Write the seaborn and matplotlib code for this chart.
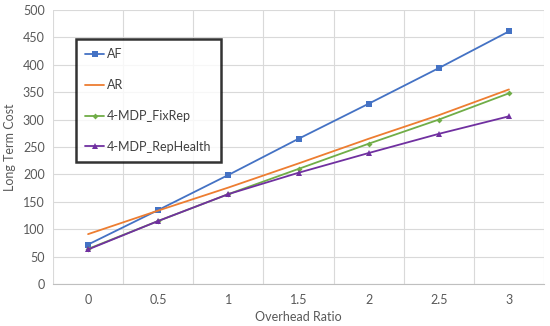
import numpy as np
import pandas as pd
import matplotlib
matplotlib.use("Agg")
import matplotlib.pyplot as plt
import seaborn as sns

# --- data ---
overhead = [0, 0.5, 1, 1.5, 2, 2.5, 3]
tick_labels = ["0", "0.5", "1", "1.5", "2", "2.5", "3"]
af = [72, 135, 199, 265, 329, 394, 461]
ar = [91, 134, 176, 220, 265, 308, 355]
fixrep = [64, 115, 164, 210, 256, 300, 348]
rephealth = [63, 115, 164, 203, 239, 274, 306]

series_names = ["AF", "AR", "4-MDP_FixRep", "4-MDP_RepHealth"]
series_values = [af, ar, fixrep, rephealth]

df = pd.DataFrame({
    "Overhead Ratio": np.tile(overhead, len(series_names)),
    "Long Term Cost": np.concatenate(series_values),
    "Series": np.repeat(series_names, len(overhead)),
})

sns.set_theme(style="white")
plt.rcParams["font.family"] = ["Lato", "DejaVu Sans"]

palette = {"AF": "#4472C4", "AR": "#ED7D31",
           "4-MDP_FixRep": "#70AD47", "4-MDP_RepHealth": "#7030A0"}
markers = {"AF": "s", "AR": "", "4-MDP_FixRep": "D", "4-MDP_RepHealth": "^"}
sizes = {"AF": 4, "AR": 0, "4-MDP_FixRep": 3, "4-MDP_RepHealth": 4}

fig = plt.figure(figsize=(5.5, 3.26), dpi=100)
ax = fig.add_axes([53 / 550, 1 - 284 / 326, (544 - 53) / 550, (284 - 10) / 326])

for name in series_names:
    sub = df[df["Series"] == name]
    sns.lineplot(data=sub, x="Overhead Ratio", y="Long Term Cost", ax=ax,
                 color=palette[name], linewidth=1.3, label=name,
                 marker=markers[name] if markers[name] else None,
                 markersize=sizes[name], markeredgewidth=0)

ax.set_xlim(-0.25, 3.25)
ax.set_ylim(0, 500)
ax.set_yticks(np.arange(0, 501, 50))
ax.set_xticks(overhead)
ax.set_xticklabels(tick_labels)
ax.set_xticks(np.arange(-0.25, 3.26, 0.5), minor=True)

grid_c = "#D9D9D9"
ax.grid(axis="y", which="major", color=grid_c, linewidth=0.8)
ax.grid(axis="x", which="minor", color=grid_c, linewidth=0.8)
ax.grid(axis="x", which="major", visible=False)
ax.set_axisbelow(True)

for s in ["top", "right", "left"]:
    ax.spines[s].set_visible(False)
ax.spines["bottom"].set_color("#BFBFBF")
ax.spines["bottom"].set_linewidth(0.8)

txt_c = "#595959"
ax.tick_params(axis="x", which="major", length=0, pad=7, labelsize=9, labelcolor=txt_c)
ax.tick_params(axis="x", which="minor", length=4, width=0.8, color="#BFBFBF", direction="out")
ax.tick_params(axis="y", length=0, pad=6, labelsize=9, labelcolor=txt_c)

ax.set_xlabel("Overhead Ratio", fontsize=9, color=txt_c, labelpad=4)
ax.set_ylabel("Long Term Cost", fontsize=9, color=txt_c, labelpad=5)

leg = ax.legend(loc="upper left", bbox_to_anchor=(23 / 491, 1 - 29 / 274),
                frameon=True, fancybox=False, fontsize=9, labelspacing=1.5,
                handlelength=1.5, handletextpad=0.2, borderpad=0.75,
                borderaxespad=0)
leg.get_frame().set_edgecolor("black")
leg.get_frame().set_linewidth(1.8)
for t in leg.get_texts():
    t.set_color("#404040")

fig.savefig("out.png", dpi=100)
